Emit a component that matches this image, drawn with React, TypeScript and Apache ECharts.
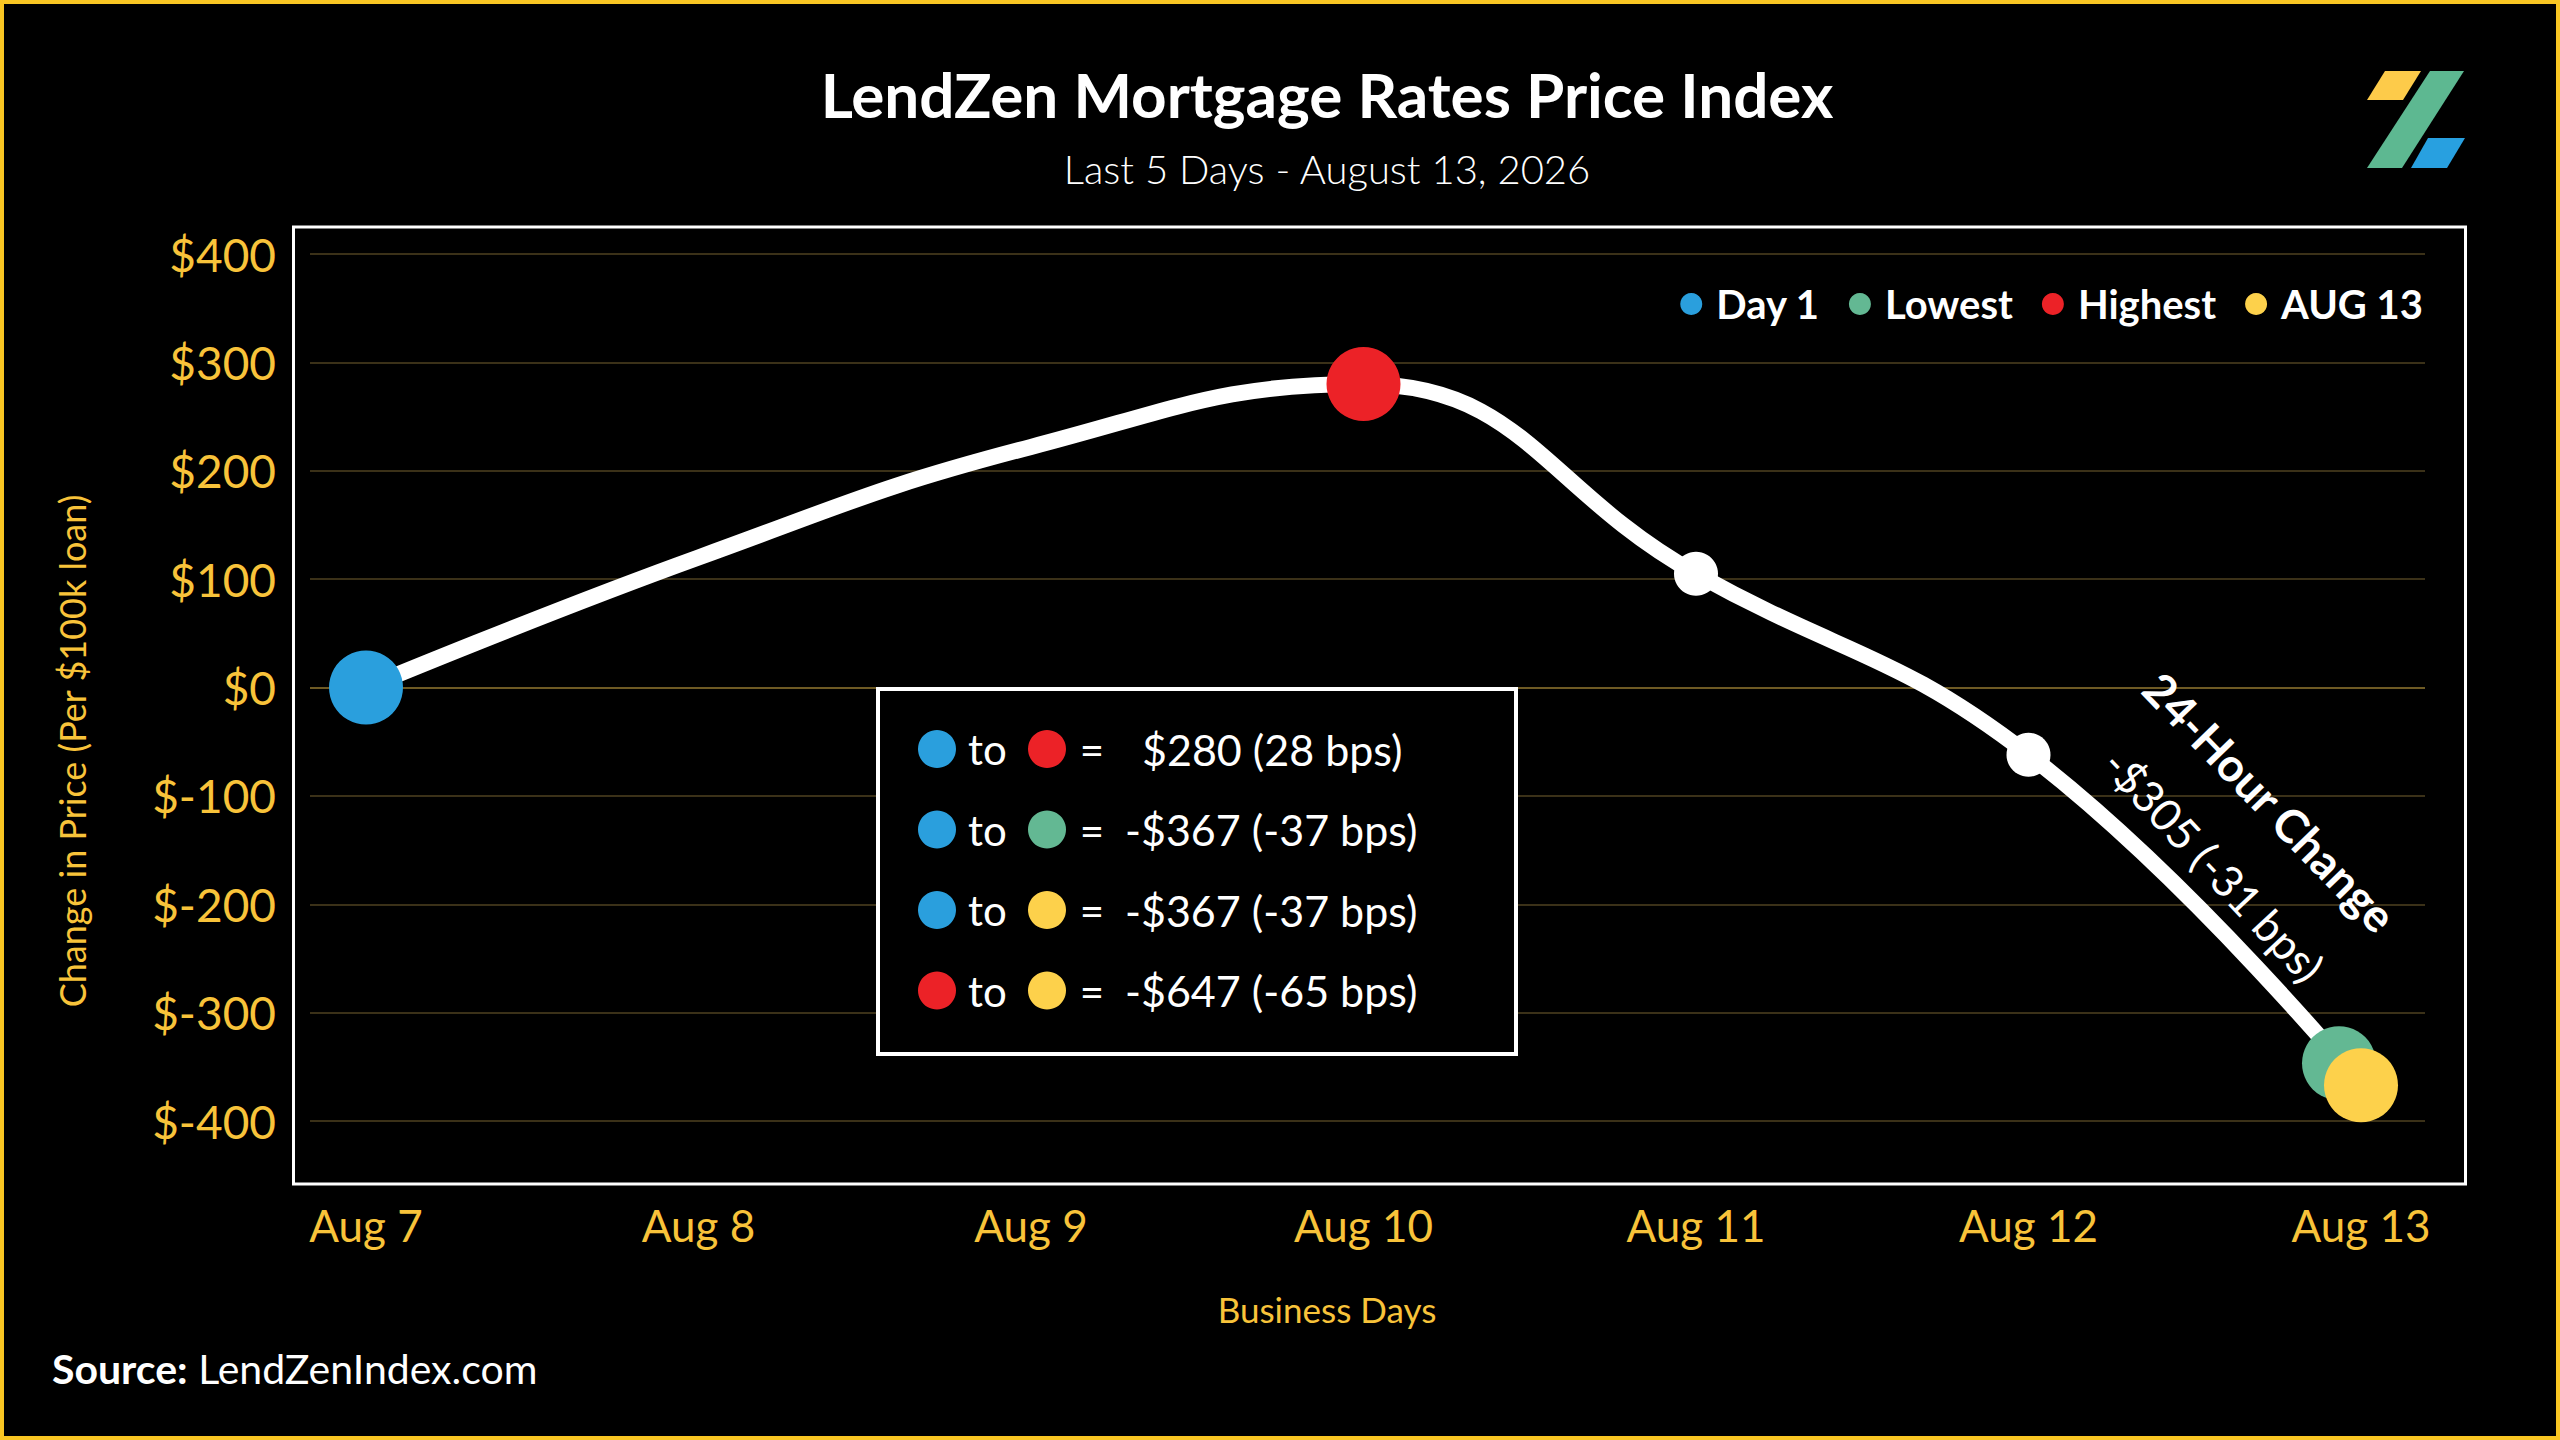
import React, { useEffect, useRef } from "react";
import * as echarts from "echarts";

const categories = ["Aug 7", "Aug 8", "Aug 9", "Aug 10", "Aug 11", "Aug 12", "Aug 13"];
const priceChange = [0, 120, 222, 280, 105, -62, -367];
const plainMarkerIndex = [4, 5];

const markerNames = ["Day 1", "Lowest", "Highest", "AUG 13"];
const markerColors = ["#2A9FDD", "#63B893", "#EC2227", "#FDD14B"];
const markerIndex = [0, 6, 3, 6];

const yMin = -400;
const yMax = 400;
const yInterval = 100;

const insetRows = [
  ["Day 1", "Highest", "$280 (28 bps)"],
  ["Day 1", "Lowest", "-$367 (-37 bps)"],
  ["Day 1", "AUG 13", "-$367 (-37 bps)"],
  ["Highest", "AUG 13", "-$647 (-65 bps)"],
];

const changeTitle = "24-Hour Change";
const changeText = "-$305 (-31 bps)";

const titleText = "LendZen Mortgage Rates Price Index";
const subtitleText = "Last 5 Days - August 13, 2026";
const yAxisName = "Change in Price (Per $100k loan)";
const xAxisName = "Business Days";

const YELLOW = "#F8C33A";
const FONT = "Lato, 'Open Sans', sans-serif";

function colorOf(name: string) {
  return markerColors[markerNames.indexOf(name)];
}

export default function App() {
  const ref = useRef<HTMLDivElement>(null);

  useEffect(() => {
    if (!ref.current) return;
    const chart = echarts.init(ref.current, null, { renderer: "svg" });

    const nLines = (yMax - yMin) / yInterval + 1;
    const splitColors: string[] = [];
    for (let i = 0; i < nLines; i++) {
      splitColors.push(yMin + i * yInterval === 0 ? "#6E5A24" : "#3B3118");
    }

    const lineData = priceChange.map((v, i) =>
      plainMarkerIndex.includes(i)
        ? { value: v, symbol: "circle", symbolSize: 44 }
        : { value: v, symbol: "none" }
    );

    const markerSeries = markerNames.map((name, k) => ({
      name,
      type: "scatter",
      xAxisIndex: 1,
      yAxisIndex: 1,
      clip: false,
      symbol: "circle",
      symbolSize: 74,
      symbolOffset: name === "Lowest" ? [-22, -22] : [0, 0],
      itemStyle: { color: markerColors[k], opacity: 1 },
      z: 5 + (name === "AUG 13" ? 2 : name === "Lowest" ? 1 : 0),
      data: [[categories[markerIndex[k]], priceChange[markerIndex[k]]]],
    }));

    const insetGraphics: any[] = [];
    const rowY0 = 749;
    const rowStep = 80.5;
    insetGraphics.push({
      type: "rect",
      shape: { x: 878, y: 689, width: 638, height: 365 },
      style: { fill: "#000", stroke: "#fff", lineWidth: 4 },
      z: 10,
    });
    insetRows.forEach((row, r) => {
      const cy = rowY0 + r * rowStep;
      insetGraphics.push(
        { type: "circle", shape: { cx: 937, cy, r: 19 }, style: { fill: colorOf(row[0]) }, z: 11 },
        {
          type: "text",
          x: 968,
          y: cy,
          style: { text: "to", fill: "#fff", font: `42px ${FONT}`, verticalAlign: "middle", align: "left" },
          z: 11,
        },
        { type: "circle", shape: { cx: 1047, cy, r: 19 }, style: { fill: colorOf(row[1]) }, z: 11 },
        {
          type: "text",
          x: 1092,
          y: cy,
          style: { text: "=", fill: "#fff", font: `42px ${FONT}`, verticalAlign: "middle", align: "center" },
          z: 11,
        },
        {
          type: "text",
          x: row[2].startsWith("-") ? 1125 : 1142,
          y: cy,
          style: { text: row[2], fill: "#fff", font: `43px ${FONT}`, verticalAlign: "middle", align: "left" },
          z: 11,
        }
      );
    });

    const option: any = {
      animation: false,
      backgroundColor: "#000",
      textStyle: { fontFamily: FONT },
      grid: [
        { left: 310, right: 135, top: 254, bottom: 319 },
        { left: 366, right: 199, top: 254, bottom: 319 },
      ],
      xAxis: [
        {
          type: "value",
          gridIndex: 0,
          min: 0,
          max: 1,
          show: false,
        },
        {
          type: "category",
          gridIndex: 1,
          data: categories,
          boundaryGap: false,
          axisLine: { show: false },
          axisTick: { show: false },
          splitLine: { show: false },
          axisLabel: {
            color: YELLOW,
            fontSize: 44,
            lineHeight: 44,
            margin: 82,
            fontFamily: FONT,
          },
        },
      ],
      yAxis: [
        {
          type: "value",
          gridIndex: 0,
          min: yMin,
          max: yMax,
          interval: yInterval,
          axisLine: { show: false },
          axisTick: { show: false },
          splitLine: { show: true, lineStyle: { color: splitColors, width: 2 } },
          axisLabel: {
            color: YELLOW,
            fontSize: 46,
            margin: 34,
            fontFamily: FONT,
            formatter: (v: number) => "$" + v,
          },
        },
        {
          type: "value",
          gridIndex: 1,
          min: yMin,
          max: yMax,
          interval: yInterval,
          show: false,
        },
      ],
      legend: {
        data: markerNames,
        right: 137,
        top: 284,
        padding: 0,
        icon: "circle",
        itemWidth: 40,
        itemHeight: 22,
        itemGap: 29,
        selectedMode: false,
        textStyle: { color: "#fff", fontSize: 40, fontWeight: "bold", fontFamily: FONT },
      },
      series: [
        {
          name: "Price Change",
          type: "line",
          xAxisIndex: 1,
          yAxisIndex: 1,
          clip: false,
          smooth: 0.45,
          showSymbol: true,
          itemStyle: { color: "#fff" },
          lineStyle: { color: "#fff", width: 16 },
          z: 3,
          data: lineData,
        },
        ...markerSeries,
      ],
      graphic: [
        {
          type: "rect",
          shape: { x: 0, y: 0, width: 2560, height: 1440 },
          style: { fill: "none", stroke: "#F9C623", lineWidth: 8 },
          z: 20,
          silent: true,
        },
        {
          type: "rect",
          shape: { x: 293.5, y: 227, width: 2172, height: 957 },
          style: { fill: "none", stroke: "#fff", lineWidth: 3 },
          z: 1,
          silent: true,
        },
        {
          type: "text",
          x: 1327,
          y: 94,
          style: {
            text: titleText,
            fill: "#fff",
            font: `bold 62px ${FONT}`,
            align: "center",
            verticalAlign: "middle",
          },
        },
        {
          type: "text",
          x: 1327,
          y: 169,
          style: {
            text: subtitleText,
            fill: "#fff",
            font: `300 40px ${FONT}`,
            align: "center",
            verticalAlign: "middle",
          },
        },
        {
          type: "text",
          x: 72,
          y: 751,
          rotation: Math.PI / 2,
          style: {
            text: yAxisName,
            fill: YELLOW,
            font: `36px ${FONT}`,
            align: "center",
            verticalAlign: "middle",
          },
        },
        {
          type: "text",
          x: 1327,
          y: 1309,
          style: {
            text: xAxisName,
            fill: YELLOW,
            font: `35px ${FONT}`,
            align: "center",
            verticalAlign: "middle",
          },
        },
        {
          type: "text",
          x: 52,
          y: 1368,
          style: {
            text: "{b|Source:} LendZenIndex.com",
            fill: "#fff",
            font: `41px ${FONT}`,
            verticalAlign: "middle",
            align: "left",
            rich: {
              b: { fontWeight: "bold", fontSize: 41, fill: "#fff", fontFamily: FONT },
            },
          },
        },
        {
          type: "text",
          x: 2270,
          y: 802,
          rotation: (-46 * Math.PI) / 180,
          style: {
            text: changeTitle,
            fill: "#fff",
            font: `bold 46px ${FONT}`,
            align: "center",
            verticalAlign: "middle",
          },
          z: 8,
        },
        {
          type: "text",
          x: 2214,
          y: 865,
          rotation: (-47 * Math.PI) / 180,
          style: {
            text: changeText,
            fill: "#fff",
            font: `44px ${FONT}`,
            align: "center",
            verticalAlign: "middle",
          },
          z: 8,
        },
        {
          type: "group",
          z: 8,
          children: [
            {
              type: "polygon",
              shape: { points: [[2385, 71], [2421, 71], [2403, 100], [2367, 100]] },
              style: { fill: "#FDCB4A" },
            },
            {
              type: "polygon",
              shape: { points: [[2430, 71], [2464, 71], [2402, 168], [2367, 168]] },
              style: { fill: "#5DB891" },
            },
            {
              type: "polygon",
              shape: { points: [[2428, 138], [2465, 138], [2447, 168], [2411, 168]] },
              style: { fill: "#28A0E0" },
            },
          ],
        },
        ...insetGraphics,
      ],
    };

    chart.setOption(option);
    return () => chart.dispose();
  }, []);

  return (
    <div
      ref={ref}
      style={{ position: "fixed", left: 0, top: 0, width: 2560, height: 1440, background: "#000" }}
    />
  );
}
